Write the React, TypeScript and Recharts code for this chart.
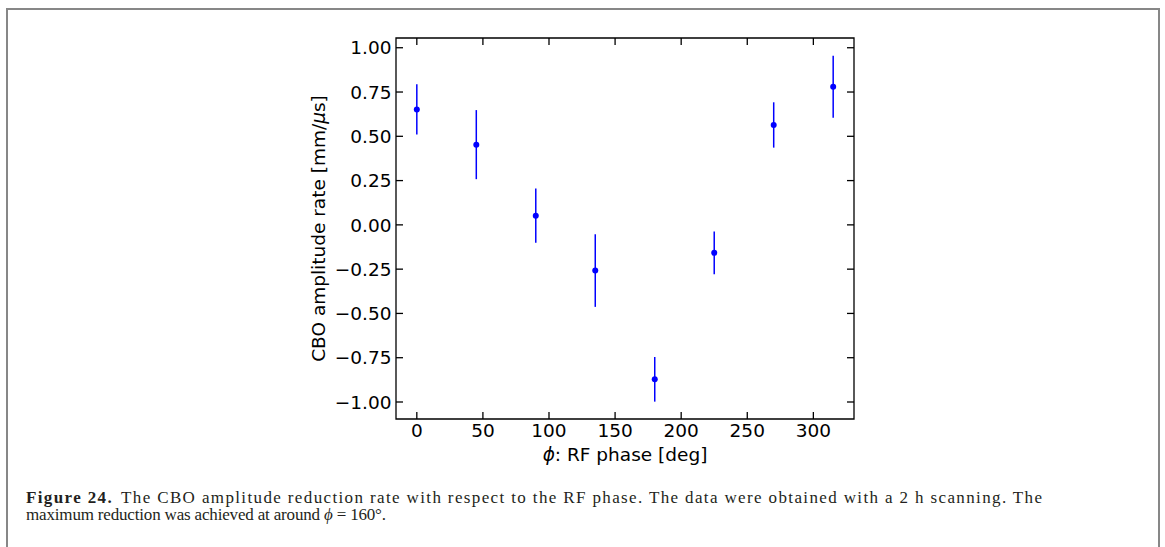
import React from 'react';
import { ScatterChart, Scatter, XAxis, YAxis, ErrorBar, ReferenceArea } from 'recharts';

// ---- data ----
const phases = [0, 45, 90, 135, 180, 225, 270, 315];
const rates = [0.652, 0.453, 0.052, -0.258, -0.872, -0.158, 0.564, 0.78];
const errors = [0.142, 0.195, 0.153, 0.205, 0.126, 0.121, 0.128, 0.175];
const xTicks = [0, 50, 100, 150, 200, 250, 300];
const yTicks = [-1, -0.75, -0.5, -0.25, 0, 0.25, 0.5, 0.75, 1];
const xDomain: [number, number] = [-15.75, 330.75];
const yDomain: [number, number] = [-1.096, 1.055];

const points = phases.map((p, i) => ({ x: p, y: rates[i], err: errors[i] }));

// ---- layout ----
const W = 1165;
const H = 547;
const PL = 396;
const PR = 854;
const PT = 38;
const PB = 419;
const PW = PR - PL;
const PH = PB - PT;
const TICK = 7;
const TICK_FONT = 18.5;
const FONT = '"DejaVu Sans", sans-serif';
const BLUE = '#0000ff';

const fmtY = (v: number) => (v < 0 ? '\u2212' + Math.abs(v).toFixed(2) : v.toFixed(2));

const XTick = (props: any) => {
  const { x, y, payload } = props;
  return (
    <g>
      <line x1={x} y1={y} x2={x} y2={y - TICK} stroke="#000" strokeWidth={1.3} />
      <line x1={x} y1={y - PH} x2={x} y2={y - PH + TICK} stroke="#000" strokeWidth={1.3} />
      <text x={x} y={y + 18} textAnchor="middle" fontFamily={FONT} fontSize={TICK_FONT} fill="#000">
        {String(payload.value)}
      </text>
    </g>
  );
};

const YTick = (props: any) => {
  const { x, y, payload } = props;
  return (
    <g>
      <line x1={x} y1={y} x2={x + TICK} y2={y} stroke="#000" strokeWidth={1.3} />
      <line x1={x + PW} y1={y} x2={x + PW - TICK} y2={y} stroke="#000" strokeWidth={1.3} />
      <text x={x - 4.5} y={y} dy="0.36em" textAnchor="end" fontFamily={FONT} fontSize={TICK_FONT} fill="#000">
        {fmtY(payload.value)}
      </text>
    </g>
  );
};

const Dot = (props: any) => {
  const { cx, cy } = props;
  return <circle cx={cx} cy={cy} r={3} fill={BLUE} />;
};

export default function App() {
  return (
    <div style={{ position: 'absolute', left: 0, top: 0, width: W, height: H, background: '#fff', overflow: 'hidden' }}>
      <div
        style={{
          position: 'absolute',
          left: 6,
          top: 8,
          width: 1154,
          height: H - 8,
          boxSizing: 'border-box',
          borderLeft: '2px solid #878787',
          borderTop: '2px solid #878787',
          borderRight: '2px solid #878787',
        }}
      />
      <div style={{ position: 'absolute', left: 0, top: 0 }}>
        <ScatterChart width={W} height={H} margin={{ top: PT, right: W - PR, bottom: 0, left: 0 }}>
          <XAxis
            type="number"
            dataKey="x"
            domain={xDomain}
            ticks={xTicks}
            interval={0}
            allowDataOverflow
            tickLine={false}
            axisLine={false}
            tickSize={0}
            tickMargin={0}
            height={H - PB}
            tick={<XTick />}
          />
          <YAxis
            type="number"
            dataKey="y"
            domain={yDomain}
            ticks={yTicks}
            interval={0}
            allowDataOverflow
            tickLine={false}
            axisLine={false}
            tickSize={0}
            tickMargin={0}
            width={PL}
            tick={<YTick />}
          />
          <ReferenceArea
            x1={xDomain[0]}
            x2={xDomain[1]}
            y1={yDomain[0]}
            y2={yDomain[1]}
            fill="none"
            fillOpacity={0}
            stroke="#000"
            strokeWidth={1.3}
            ifOverflow="visible"
          />
          <Scatter data={points} fill={BLUE} shape={<Dot />} isAnimationActive={false}>
            <ErrorBar dataKey="err" direction="y" width={0} stroke={BLUE} strokeWidth={1.5} isAnimationActive={false} />
          </Scatter>
        </ScatterChart>
      </div>
      <svg width={W} height={H} style={{ position: 'absolute', left: 0, top: 0, pointerEvents: 'none' }}>
        <text x={(PL + PR) / 2} y={461} textAnchor="middle" fontFamily={FONT} fontSize={TICK_FONT} fill="#000">
          <tspan fontStyle="italic">ϕ</tspan>
          <tspan>: RF phase [deg]</tspan>
        </text>
        <text
          x={325}
          y={(PT + PB) / 2}
          textAnchor="middle"
          transform={`rotate(-90 325 ${(PT + PB) / 2})`}
          fontFamily={FONT}
          fontSize={TICK_FONT}
          fill="#000"
        >
          <tspan>CBO amplitude rate [mm/</tspan>
          <tspan fontStyle="italic">μ</tspan>
          <tspan>s]</tspan>
        </text>
        <text x={26} y={503} fontFamily='"Liberation Serif", serif' fontSize={17} fill="#231f20" textLength={1016} lengthAdjust="spacing">
          <tspan fontWeight="bold">Figure 24.</tspan>
          <tspan dx={8}>The CBO amplitude reduction rate with respect to the RF phase. The data were obtained with a 2 h scanning. The</tspan>
        </text>
        <text x={26} y={520} fontFamily='"Liberation Serif", serif' fontSize={17} fill="#231f20" textLength={360} lengthAdjust="spacing">
          <tspan>maximum reduction was achieved at around </tspan>
          <tspan fontStyle="italic">ϕ</tspan>
          <tspan> = 160°.</tspan>
        </text>
      </svg>
    </div>
  );
}
